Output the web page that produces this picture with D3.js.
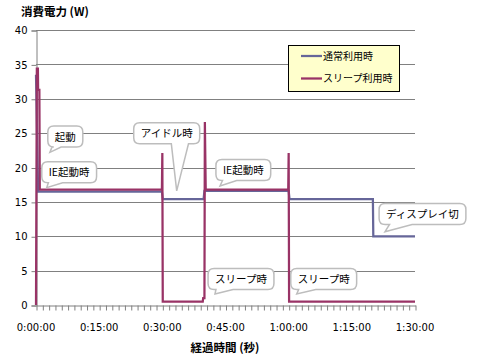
<!DOCTYPE html>
<html><head><meta charset="utf-8">
<script src="https://cdn.jsdelivr.net/npm/d3@7"></script>
<style>body{margin:0;background:#fff} svg{display:block}</style>
</head><body><svg id="c" width="480" height="360"></svg>
<script>
// ---- data (time in minutes, power in W) ----
const seriesNames = ["通常利用時", "スリープ利用時"];
const normalTime = [0, 0.5, 29.9, 30.1, 39.8, 40.0, 60.0, 60.2, 80.0, 80.1, 90];
const normalWatt = [33.5, 16.5, 16.5, 15.4, 15.4, 16.6, 16.6, 15.4, 15.4, 10.0, 10.0];
const sleepTime = [0, 0.2, 0.45, 0.5, 0.8, 0.9, 29.9, 30.0, 30.1, 39.6, 39.7, 40.0, 40.1, 40.3, 59.9, 60.0, 60.1, 90];
const sleepWatt = [0, 34.4, 34.4, 31.3, 31.3, 16.8, 16.8, 22.1, 0.5, 0.5, 1.0, 1.0, 26.6, 16.8, 16.8, 22.1, 0.5, 0.5];
const yTicks = [0, 5, 10, 15, 20, 25, 30, 35, 40];
const xLabelTicks = [0, 15, 30, 45, 60, 75, 90];
const annotations = [
  {text: "起動", t: 6.96, v: 24.5, tipT: 3.3, tipV: 22.2, tail: "left"},
  {text: "IE起動時", t: 7.88, v: 19.3, tipT: 2.54, tipV: 17.06, tail: "left"},
  {text: "アイドル時", t: 31.04, v: 24.97, tipT: 33.41, tipV: 16.6, tail: "mid"},
  {text: "IE起動時", t: 49.23, v: 19.64, tipT: 43.69, tipV: 17.31, tail: "left"},
  {text: "スリープ時", t: 48.68, v: 3.78, tipT: 42.5, tipV: 1.6, tail: "left"},
  {text: "スリープ時", t: 68.32, v: 3.78, tipT: 61.91, tipV: 1.6, tail: "left"},
  {text: "ディスプレイ切", t: 91.78, v: 13.24, tipT: 82.88, tipV: 10.66, tail: "left"}
];
const yTitle = "消費電力 (W)";
const xTitle = "経過時間 (秒)";

// ---- layout ----
const svg = d3.select("#c");
const x = d3.scaleLinear().domain([0, 90]).range([36, 415]);
const y = d3.scaleLinear().domain([0, 40]).range([305, 30]);
const GRID = "#808080";
const colors = ["#666699", "#993366"];
const jp = "'Noto Sans CJK JP','Noto Sans',sans-serif";
const num = "'DejaVu Sans',sans-serif";

// gridlines
svg.append("g").selectAll("line").data(yTicks.filter(d => d > 0)).join("line")
  .attr("x1", x(0)).attr("x2", x(90))
  .attr("y1", d => Math.round(y(d)) + 0.5).attr("y2", d => Math.round(y(d)) + 0.5)
  .attr("stroke", GRID).attr("stroke-width", 1);

// y axis
const yAxis = svg.append("g").attr("transform", `translate(${x(0) + 0.5},0.5)`)
  .call(d3.axisLeft(y).tickValues(yTicks).tickSize(5).tickPadding(4).tickFormat(d3.format("d")));
yAxis.selectAll("path,line").attr("stroke", GRID);
yAxis.selectAll("text").attr("font-family", num).attr("font-size", 10).attr("fill", "#000");

// x axis
const minorTicks = d3.range(0, 90.001, 1.5);
const xAxis = svg.append("g").attr("transform", `translate(0.5,${y(0) + 0.5})`)
  .call(d3.axisBottom(x).tickValues(minorTicks).tickSize(5).tickSizeOuter(0).tickFormat(""));
xAxis.selectAll("path,line").attr("stroke", GRID);
const fmt = m => `${Math.floor(m / 60)}:${String(m % 60).padStart(2, "0")}:00`;
svg.append("g").selectAll("text").data(xLabelTicks).join("text")
  .attr("x", d => x(d)).attr("y", 331).attr("text-anchor", "middle")
  .attr("font-family", num).attr("font-size", 10).attr("fill", "#000").text(fmt);

// titles
svg.append("text").attr("x", 21).attr("y", 16).attr("font-family", jp).attr("font-size", 11.5)
  .attr("font-weight", "bold").text(yTitle);
svg.append("text").attr("x", 225).attr("y", 352).attr("text-anchor", "middle").attr("font-family", jp)
  .attr("font-size", 11.5).attr("font-weight", "bold").text(xTitle);

// series
const line = d3.line().x(d => x(d[0])).y(d => y(d[1]));
const series = [d3.zip(normalTime, normalWatt), d3.zip(sleepTime, sleepWatt)];
svg.append("g").selectAll("path").data(series).join("path")
  .attr("d", line).attr("fill", "none")
  .attr("stroke", (d, i) => colors[i]).attr("stroke-width", 2.25).attr("stroke-linejoin", "miter");

// callouts
const cg = svg.append("g");
annotations.forEach(a => {
  const g = cg.append("g");
  const path = g.append("path");
  const txt = g.append("text").attr("font-family", jp).attr("font-size", 10.5).attr("fill", "#000")
    .attr("text-anchor", "middle").attr("x", x(a.t)).attr("y", y(a.v) + 4).text(a.text);
  const tw = txt.node().getComputedTextLength();
  const w = tw + 14, h = 21, r = 6;
  const L = x(a.t) - w / 2, R = x(a.t) + w / 2, T = y(a.v) - h / 2, B = y(a.v) + h / 2;
  const fr = a.tail === "mid" ? [0.57, 0.83] : [0.12, 0.38];
  const xa = L + w * fr[0], xb = L + w * fr[1];
  const px = x(a.tipT), py = y(a.tipV);
  const d = `M${L + r},${T} H${R - r} Q${R},${T} ${R},${T + r} V${B - r} Q${R},${B} ${R - r},${B} ` +
    `H${xb} L${px},${py} L${xa},${B} H${L + r} Q${L},${B} ${L},${B - r} V${T + r} Q${L},${T} ${L + r},${T} Z`;
  path.attr("d", d).attr("fill", "#fff").attr("stroke", "#BDBDBD").attr("stroke-width", 1.5);
});

// legend
const lg = svg.append("g");
lg.append("rect").attr("x", 288.5).attr("y", 45.5).attr("width", 111).attr("height", 46)
  .attr("fill", "#FFFFCC").attr("stroke", "#000").attr("stroke-width", 1);
seriesNames.forEach((n, i) => {
  const yy = 56 + i * 22.5;
  lg.append("line").attr("x1", 301).attr("x2", 322).attr("y1", yy).attr("y2", yy)
    .attr("stroke", colors[i]).attr("stroke-width", 2.25);
  lg.append("text").attr("x", 323).attr("y", yy + 3.5).attr("font-family", jp).attr("font-size", 10)
    .attr("fill", "#000").text(n);
});
</script></body></html>
